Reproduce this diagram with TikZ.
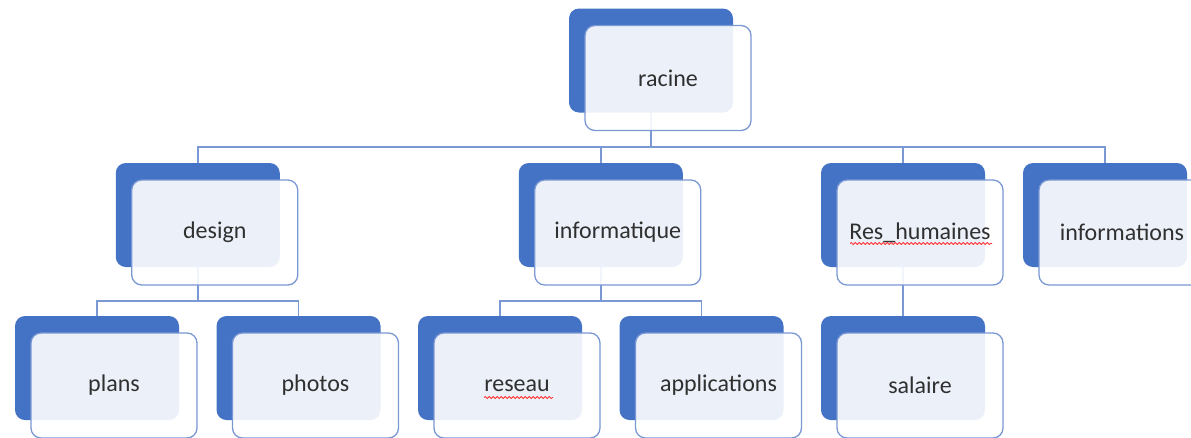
\documentclass[tikz,border=0pt]{standalone}
\usepackage{fontspec}
\setmainfont{Carlito}
\usetikzlibrary{calc,decorations.pathmorphing}
\definecolor{accent}{HTML}{4472C4}
\definecolor{linec}{HTML}{7A98D4}
\definecolor{txtc}{HTML}{303030}
\begin{document}
\begin{tikzpicture}[x=1pt,y=-1pt,
 backbox/.style={fill=accent, draw=none, rounded corners=10pt, minimum width=164pt, minimum height=104pt, inner sep=0pt},
 frontbox/.style={fill=white, fill opacity=0.9, text opacity=1, draw=linec, line width=1.3pt, rounded corners=10pt, minimum width=166pt, minimum height=105pt, inner sep=0pt, font=\fontsize{24}{28}\selectfont, text=txtc},
 conn/.style={draw=linec, line width=1.5pt},
 spell/.style={draw=red!80, line width=0.8pt, decorate, decoration={snake, amplitude=1pt, segment length=4pt}}]
\useasboundingbox (0,0) rectangle (1191,437);
\clip (0,0) rectangle (1191,437);
\fill[white] (0,0) rectangle (1191,437);
% back boxes
\node[backbox] (b-racine) at (651,60.5) {};
\node[backbox] (b-design) at (197.75,215) {};
\node[backbox] (b-info) at (600.75,215) {};
\node[backbox] (b-res) at (903,215) {};
\node[backbox] (b-infos) at (1105,215) {};
\node[backbox] (b-plans) at (97,368) {};
\node[backbox] (b-photos) at (298.5,368) {};
\node[backbox] (b-reseau) at (500,368) {};
\node[backbox] (b-appli) at (701.5,368) {};
\node[backbox] (b-salaire) at (903,368) {};
% connectors
\foreach \c in {design,info,res,infos}
  \draw[conn] (b-racine.south) -- ++(0,34.5) -| (b-\c.north);
\foreach \c in {plans,photos}
  \draw[conn] (b-design.south) -- ++(0,34) -| (b-\c.north);
\foreach \c in {reseau,appli}
  \draw[conn] (b-info.south) -- ++(0,34) -| (b-\c.north);
\draw[conn] (b-res.south) -- (b-salaire.north);
% front boxes
\node[frontbox] (f-racine) at ($(b-racine)+(17,17.5)$) {racine};
\node[frontbox] (f-design) at ($(b-design)+(17,17.5)$) {design};
\node[frontbox] (f-info) at ($(b-info)+(17,17.5)$) {informatique};
\node[frontbox] (f-res) at ($(b-res)+(17,17.5)$) {Res\_humaines};
\node[frontbox] (f-infos) at ($(b-infos)+(17,17.5)$) {informations};
\node[frontbox] (f-plans) at ($(b-plans)+(17,17.5)$) {plans};
\node[frontbox] (f-photos) at ($(b-photos)+(17,17.5)$) {photos};
\node[frontbox] (f-reseau) at ($(b-reseau)+(17,17.5)$) {reseau};
\node[frontbox] (f-appli) at ($(b-appli)+(17,17.5)$) {applications};
\node[frontbox] (f-salaire) at ($(b-salaire)+(17,17.5)$) {salaire};
% spell-check underlines
\draw[spell] ($(f-res)+(-70,11)$) -- ($(f-res)+(72,11)$);
\draw[spell] ($(f-reseau)+(-33,12)$) -- ($(f-reseau)+(36,12)$);
\end{tikzpicture}
\end{document}
